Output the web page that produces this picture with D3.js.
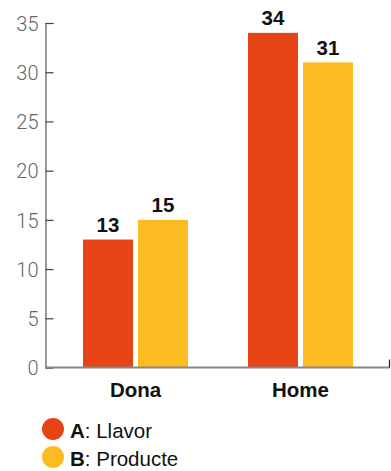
<!DOCTYPE html>
<html><head><meta charset="utf-8">
<script src="https://cdn.jsdelivr.net/npm/d3@7"></script>
<style>
html,body{margin:0;padding:0;background:#fff;}
svg{display:block;}
</style></head>
<body>
<script>
const categories = ["Dona", "Home"];
const seriesKeys = ["A", "B"];
const seriesNames = ["Llavor", "Producte"];
const valuesA = [13, 34];
const valuesB = [15, 31];
const yTicks = [0, 5, 10, 15, 20, 25, 30, 35];
const colors = ["#e64415", "#fbbc22"];

const W = 391, H = 471;
const svg = d3.select("body").append("svg").attr("width", W).attr("height", H);

const y = d3.scaleLinear().domain([0, 35]).range([367.5, 23]);
const x0 = d3.scaleBand().domain(categories).range([53, 383]).paddingInner(0.3636).paddingOuter(0.1818);
const x1 = d3.scaleBand().domain(seriesKeys).range([0, x0.bandwidth()]).paddingInner(0.0909).paddingOuter(0);
const color = d3.scaleOrdinal().domain(seriesKeys).range(colors);

const data = categories.map((c, i) => ({cat: c, vals: [{k: "A", v: valuesA[i]}, {k: "B", v: valuesB[i]}]}));

const lightFont = "Roboto, 'Liberation Sans', sans-serif";
const boldFont = "'Liberation Sans', Arial, Helvetica, sans-serif";

// y axis
const yAxis = d3.axisRight(y).tickValues(yTicks).tickSize(8).tickSizeOuter(8).tickFormat(d3.format("d"));
const gy = svg.append("g").attr("transform", "translate(45.5,0)").call(yAxis);
gy.select(".domain").attr("stroke", "#555").attr("stroke-width", 1.2);
gy.selectAll(".tick line").attr("stroke", "#444").attr("stroke-width", 1.2);
gy.selectAll(".tick text").attr("x", -7).attr("text-anchor", "end").attr("dy", "0.36em")
  .attr("font-family", lightFont).attr("font-weight", 300).attr("font-size", 20).attr("fill", "#666");

// bars
const groups = svg.append("g").selectAll("g").data(data).join("g")
  .attr("transform", d => `translate(${x0(d.cat)},0)`);
groups.selectAll("rect").data(d => d.vals).join("rect")
  .attr("x", d => x1(d.k)).attr("width", x1.bandwidth())
  .attr("y", d => y(d.v)).attr("height", d => y(0) - y(d.v))
  .attr("fill", d => color(d.k));
groups.selectAll("text").data(d => d.vals).join("text")
  .attr("x", d => x1(d.k) + x1.bandwidth() / 2).attr("y", d => y(d.v) - 7.5)
  .attr("text-anchor", "middle").attr("font-family", boldFont).attr("font-weight", "bold")
  .attr("font-size", 20.5).attr("fill", "#111").text(d => d.v);

// x axis
const xAxis = d3.axisBottom(x0).tickSize(0).tickSizeOuter(0);
const gx = svg.append("g").attr("transform", `translate(0,${y(0)})`).call(xAxis);
gx.select(".domain").attr("d", `M45,0H390`).attr("stroke", "#888").attr("stroke-width", 2);
gx.selectAll(".tick text").attr("y", 29.2).attr("dy", 0).attr("font-family", boldFont).attr("font-weight", "bold")
  .attr("font-size", 20.5).attr("fill", "#111");
gx.append("line").attr("x1", 389.5).attr("x2", 389.5).attr("y1", -8).attr("y2", 0).attr("stroke", "#222").attr("stroke-width", 1.2);

// legend
const lg = svg.append("g").selectAll("g").data(seriesKeys).join("g")
  .attr("transform", (d, i) => `translate(53,${429 + i * 28})`);
lg.append("circle").attr("r", 11).attr("fill", d => color(d));
const lt = lg.append("text").attr("x", 17).attr("y", 9)
  .attr("font-family", boldFont).attr("font-size", 20.5).attr("fill", "#111");
lt.append("tspan").attr("font-weight", "bold").text(d => d);
lt.append("tspan").text((d, i) => ": " + seriesNames[i]);
</script>
</body></html>
